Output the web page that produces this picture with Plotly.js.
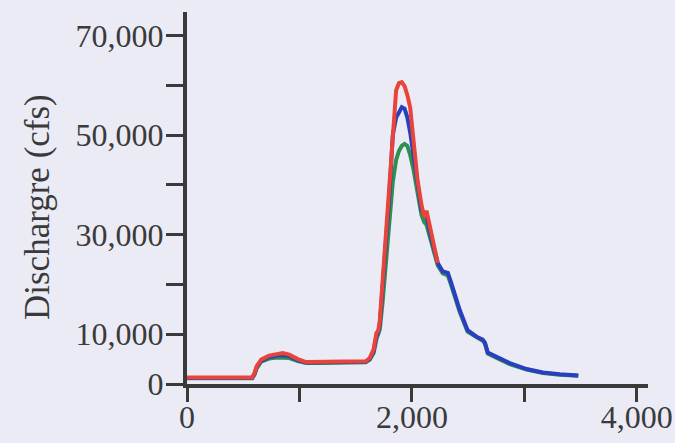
<!DOCTYPE html>
<html>
<head>
<meta charset="utf-8">
<script src="https://cdn.plot.ly/plotly-3.0.1.min.js"></script>
<style>
  html, body { margin: 0; padding: 0; background: #ebebf5; }
  #chart { width: 675px; height: 443px; }
</style>
</head>
<body>
<div id="chart"></div>
<script>
// ---- data ----
const redTime = [0, 580, 600, 620, 660, 730, 800, 850, 910, 985, 1060, 1200, 1400, 1590, 1625, 1660, 1685, 1700, 1715, 1740, 1770, 1800, 1830, 1860, 1885, 1910, 1935, 1960, 1985, 2015, 2050, 2085, 2110, 2130, 2160, 2190, 2230];
const redFlow = [1300, 1300, 2200, 3600, 4900, 5700, 6000, 6200, 5900, 5000, 4400, 4400, 4450, 4550, 5200, 7000, 10300, 10600, 12800, 21000, 31000, 41000, 52000, 59000, 60400, 60600, 59800, 58000, 55500, 49000, 41000, 36000, 33500, 34800, 31500, 28000, 24300];

const blueTime = [0, 580, 600, 620, 660, 730, 800, 850, 910, 985, 1060, 1200, 1400, 1590, 1625, 1660, 1685, 1700, 1715, 1740, 1770, 1800, 1830, 1860, 1885, 1910, 1935, 1960, 1985, 2015, 2050, 2085, 2110, 2130, 2160, 2190, 2230, 2275, 2300, 2320, 2350, 2425, 2495, 2575, 2630, 2650, 2675, 2750, 2870, 3020, 3165, 3315, 3480];
const blueFlow = [1200, 1200, 2000, 3400, 4700, 5400, 5700, 5800, 5600, 4800, 4300, 4300, 4350, 4450, 5000, 6600, 9600, 10300, 12000, 19000, 28500, 38000, 50000, 53500, 54500, 55600, 55300, 53500, 50500, 46000, 40000, 35000, 34000, 33800, 30500, 27500, 24300, 22600, 22500, 22300, 20300, 14900, 10800, 9500, 8900, 8300, 6300, 5500, 4200, 3000, 2300, 1950, 1700];

const greenTime = blueTime;
const greenFlow = [1150, 1150, 1900, 3200, 4500, 5100, 5300, 5300, 5200, 4600, 4200, 4200, 4250, 4350, 4900, 6200, 9000, 10000, 11000, 16500, 25000, 33000, 40500, 45000, 46800, 47800, 48200, 47800, 46000, 43000, 38500, 34000, 32500, 32000, 29500, 27000, 23800, 22200, 22000, 21800, 19800, 14500, 10500, 9300, 8700, 8100, 6100, 5300, 4000, 2900, 2200, 1850, 1650];

const xTickVals = [0, 1000, 2000, 3000, 4000];
const xTickText = ['0', '', '2,000', '', '4,000'];
const yTickVals = [0, 10000, 20000, 30000, 40000, 50000, 60000, 70000];
const yTickText = ['0', '10,000', '', '30,000', '', '50,000', '', '70,000'];

const yTitle = 'Dischargre (cfs)';

// ---- chart ----
const axisColor = '#3a3a3a';
const textColor = '#3a3a3a';
const fontFamily = '"Liberation Serif", "Times New Roman", serif';

const traces = [
  { x: greenTime, y: greenFlow, mode: 'lines', line: { color: '#2f8f4f', width: 4 }, hoverinfo: 'skip' },
  { x: blueTime, y: blueFlow, mode: 'lines', line: { color: '#2a3fbf', width: 4 }, hoverinfo: 'skip' },
  { x: redTime, y: redFlow, mode: 'lines', line: { color: '#e8443a', width: 4 }, hoverinfo: 'skip' }
];

const layout = {
  width: 675,
  height: 443,
  margin: { l: 187, r: 27, t: 12, b: 59 },
  paper_bgcolor: '#ebebf5',
  plot_bgcolor: '#ebebf5',
  showlegend: false,
  font: { family: fontFamily, color: textColor, size: 32 },
  xaxis: {
    range: [0, 4100],
    tickvals: xTickVals,
    ticktext: xTickText,
    ticks: 'outside',
    ticklen: 14,
    tickwidth: 3,
    tickcolor: axisColor,
    ticklabelstandoff: -12,
    showline: true,
    linewidth: 4,
    linecolor: axisColor,
    showgrid: false,
    zeroline: false,
    tickfont: { family: fontFamily, size: 32, color: textColor }
  },
  yaxis: {
    range: [0, 74700],
    tickvals: yTickVals,
    ticktext: yTickText,
    ticks: 'outside',
    ticklen: 17,
    tickwidth: 3,
    tickcolor: axisColor,
    ticklabelstandoff: -4,
    showline: true,
    linewidth: 4,
    linecolor: axisColor,
    showgrid: false,
    zeroline: false,
    tickfont: { family: fontFamily, size: 32, color: textColor }
  },
  annotations: [{
    text: yTitle,
    xref: 'paper', yref: 'paper',
    x: -0.323, y: 0.476,
    xanchor: 'center', yanchor: 'middle',
    textangle: -90,
    showarrow: false,
    font: { family: fontFamily, size: 35, color: textColor }
  }]
};

Plotly.newPlot('chart', traces, layout, { staticPlot: true, displayModeBar: false });
</script>
</body>
</html>
